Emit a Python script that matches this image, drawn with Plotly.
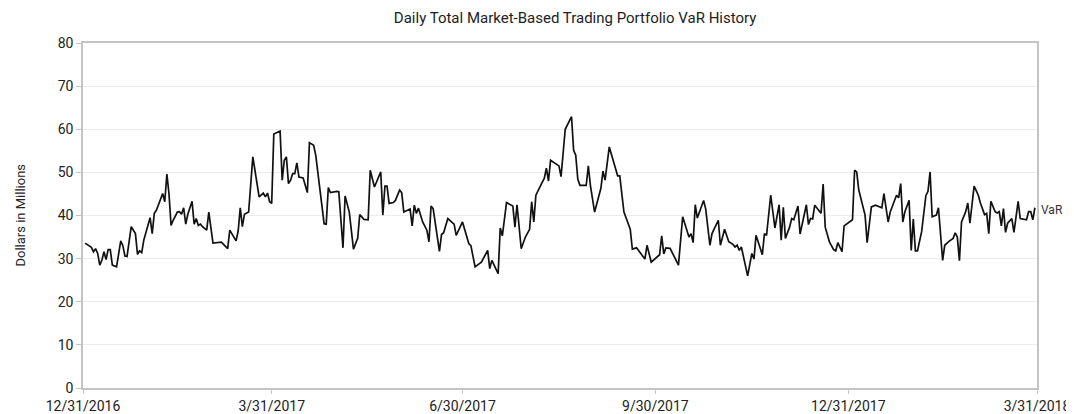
import pandas as pd
import plotly.graph_objects as go

start_date = "2016-12-31"
tick_dates = ["2016-12-31", "2017-03-31", "2017-06-30", "2017-09-30", "2017-12-31", "2018-03-31"]
tick_labels = ["12/31/2016", "3/31/2017", "6/30/2017", "9/30/2017", "12/31/2017", "3/31/2018"]
y_ticks = [0, 10, 20, 30, 40, 50, 60, 70, 80]

# days elapsed since 12/31/2016 for each observation
day_offsets = [
    1, 3, 4, 5, 6, 7, 8, 9, 10, 11, 12, 13, 14, 16, 18, 19, 20, 21, 23, 25,
    26, 27, 28, 29, 32, 33, 34, 35, 37, 38, 39, 40, 41, 42, 43, 45, 46, 47, 48, 49,
    50, 52, 53, 54, 55, 56, 57, 59, 60, 61, 62, 66, 69, 70, 72, 73, 74, 75, 76, 77,
    79, 80, 81, 84, 86, 87, 88, 89, 90, 91, 94, 95, 96, 97, 98, 99, 100, 101, 102, 103,
    105, 107, 108, 110, 111, 115, 116, 117, 118, 121, 122, 124, 125, 127, 129, 131, 132, 134, 136, 137,
    139, 142, 143, 144, 145, 146, 148, 149, 151, 152, 153,
    156, 157, 158, 159, 160, 162, 164, 165, 166, 167, 170, 171, 172, 174, 176, 177, 178, 180, 181, 184,
    185, 187, 190, 193, 194, 195, 198, 199, 200, 202, 205, 206, 207, 209, 211, 213, 214, 215, 216, 219,
    220, 221, 222, 223, 226, 227, 228,
    230, 233, 234, 235, 236, 237, 240, 241, 242, 244, 247, 248, 249, 251, 255, 256, 258, 261, 262, 264,
    266, 268, 269, 271, 275, 276, 277, 278, 280, 282, 284, 286, 289, 290, 291, 292, 293, 296, 297, 299,
    300, 303,
    304, 306, 308, 310, 311, 312, 313, 314, 317, 319, 320, 321, 324, 325, 326, 328, 330, 332, 333, 334,
    335, 337, 338, 339, 341, 342, 345, 346, 347, 348, 349, 352, 353, 354, 356, 358, 359, 360, 362, 363,
    365, 367, 368, 369, 370, 373, 374, 376, 378, 381, 382,
    384, 385, 388, 389, 390, 391, 392, 394, 395, 396, 397, 398, 400, 402, 403, 404, 405, 407, 408, 410,
    411, 413, 415, 416, 417, 418, 419, 421, 422, 423, 425, 427, 428, 430, 431, 432, 433, 435, 436, 437,
    438, 439, 440, 441, 443, 444, 446, 447, 449, 450, 451, 452, 453, 454,
]

var_values = [
    33.6, 32.9, 32.6, 31.6, 32.3, 31.2, 28.5, 29.6, 31.6, 29.8, 32.1, 32.1, 28.5, 28.1, 34.1, 33.0, 30.6, 30.5, 37.4, 35.8,
    31.0, 31.8, 31.4, 34.3, 39.5, 35.8, 40.5, 41.2, 43.7, 45.1, 43.2, 49.6, 45.1, 37.7, 38.9, 40.8, 40.9, 40.3, 41.8, 38.0,
    40.3, 43.3, 38.0, 39.3, 37.7, 38.0, 37.4, 36.6, 40.8, 37.4, 33.6, 33.8, 32.3, 36.6, 34.9, 34.1, 36.4, 41.8, 37.4, 40.3,
    40.8, 48.6, 53.6, 44.3, 45.2, 44.3, 45.2, 43.2, 42.8, 58.9, 59.6, 48.2, 52.8, 53.6, 47.4, 48.2, 49.7, 49.7, 52.2, 48.9,
    48.7, 45.3, 56.9, 56.3, 54.0, 38.1, 38.0, 46.5, 45.3, 45.6, 45.5, 32.5, 44.5, 40.8, 32.2, 34.7, 40.2, 39.1, 39.0, 50.5,
    46.6, 50.1, 40.1, 46.8, 46.8, 42.8, 43.0, 43.5, 45.9, 45.3, 40.8,
    41.5, 37.6, 42.4, 40.5, 41.7, 38.5, 36.6, 33.9, 42.2, 41.6, 31.7, 35.6, 36.0, 39.3, 38.4, 38.0, 35.4, 37.4, 38.5, 33.5,
    33.0, 28.1, 29.2, 31.9, 27.7, 29.6, 26.5, 37.1, 35.3, 43.0, 42.2, 37.3, 42.5, 32.3, 35.0, 36.8, 43.2, 38.5, 44.7, 47.7,
    48.6, 51.0, 48.0, 52.8, 51.7, 51.5, 49.0,
    60.0, 62.9, 55.1, 54.0, 48.4, 47.0, 47.0, 51.5, 47.0, 40.8, 46.3, 50.3, 48.2, 55.9, 49.2, 49.2, 40.8, 36.8, 32.2, 32.5,
    31.2, 29.9, 33.1, 29.2, 30.9, 35.3, 31.1, 32.5, 32.4, 30.4, 28.5, 39.7, 35.0, 35.8, 33.7, 42.5, 39.4, 43.5, 41.5, 33.1,
    35.8, 38.9,
    33.1, 36.8, 33.9, 33.3, 32.7, 33.1, 31.9, 32.7, 26.0, 31.2, 29.9, 35.4, 30.9, 35.8, 35.4, 44.7, 37.1, 42.5, 34.3, 41.9,
    34.7, 37.3, 39.3, 39.0, 42.2, 35.7, 42.5, 37.9, 39.3, 39.2, 42.4, 40.5, 47.3, 37.3, 33.9, 32.1, 31.8, 33.7, 31.6, 37.6,
    38.4, 39.0, 50.5, 50.1, 45.9, 40.1, 33.7, 42.0, 42.4, 41.8, 45.1,
    38.5, 40.8, 44.7, 44.1, 47.4, 38.5, 40.9, 43.5, 31.9, 39.2, 31.8, 31.8, 36.3, 44.6, 45.6, 50.1, 39.7, 40.1, 41.8, 29.6,
    33.1, 34.0, 34.7, 36.0, 35.0, 29.5, 38.5, 40.9, 42.9, 38.2, 46.8, 44.7, 42.9, 40.2, 40.5, 35.8, 43.3, 40.9, 40.6, 40.9,
    37.6, 41.6, 36.1, 38.2, 39.3, 36.1, 43.3, 39.3, 39.1, 39.0, 40.9, 40.9, 39.0, 41.8,
]

series_name = "VaR"

dates = pd.Timestamp(start_date) + pd.to_timedelta(day_offsets, unit="D")

FONT = "Roboto, Arial, sans-serif"
AXIS_GREY = "#c4c4c4"

# the page places the figure 8px from the top-left corner of the window
FIG_W, FIG_H = 1066, 406

fig = go.Figure()
fig.add_trace(go.Scatter(
    x=dates, y=var_values, mode="lines", name=series_name,
    line=dict(color="#111111", width=1.7), showlegend=False,
))

fig.add_annotation(
    x=dates[-1], y=var_values[-1], text=series_name, showarrow=False,
    xanchor="left", xshift=4, yshift=-2,
    font=dict(family=FONT, size=12, color="#333333"),
)

fig.add_annotation(
    xref="paper", yref="paper", x=(20 - 83) / 954, y=0.5,
    text="Dollars in Millions", textangle=-90, showarrow=False,
    xanchor="center", yanchor="middle",
    font=dict(family=FONT, size=13, color="#222222"),
)

fig.update_layout(
    width=FIG_W, height=FIG_H,
    margin=dict(l=75, r=37, t=35, b=26),
    paper_bgcolor="white", plot_bgcolor="white",
    title=dict(
        text="Daily Total Market-Based Trading Portfolio VaR History",
        xref="container", yref="container",
        x=0.532, xanchor="center", y=0.975, yanchor="middle",
        font=dict(family=FONT, size=15, color="#222222"),
    ),
    font=dict(family=FONT, size=13, color="#333333"),
)

fig.update_xaxes(
    type="date", automargin=False,
    range=[tick_dates[0], tick_dates[-1]],
    tickvals=tick_dates, ticktext=tick_labels,
    showgrid=False, zeroline=False,
    showline=True, linecolor=AXIS_GREY, linewidth=1.5, mirror=True,
    ticks="outside", ticklen=4, tickcolor=AXIS_GREY,
    tickfont=dict(family=FONT, size=14, color="#222222"),
)
fig.update_yaxes(
    range=[0, 80], tickvals=y_ticks, automargin=False,
    showgrid=True, gridcolor="#ececec", gridwidth=1,
    zeroline=False,
    showline=True, linecolor=AXIS_GREY, linewidth=1.5, mirror=True,
    ticks="outside", ticklen=5, tickcolor=AXIS_GREY,
    tickfont=dict(family=FONT, size=14, color="#222222"),
)

fig.write_html("out.html")
